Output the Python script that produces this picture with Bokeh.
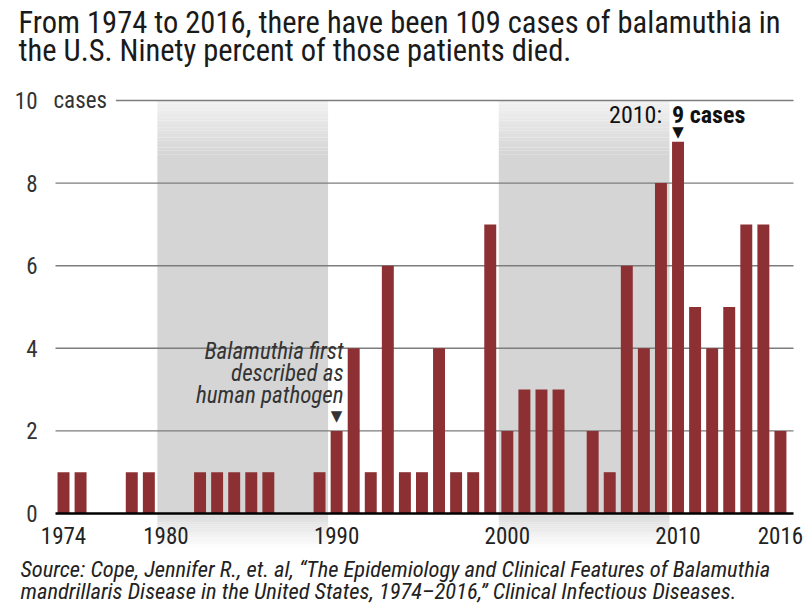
from bokeh.plotting import figure
from bokeh.models import Range1d, Title, FixedTicker
from bokeh.core.properties import value
from bokeh.embed import file_html
from bokeh.resources import INLINE

FONT = "Roboto Condensed, DejaVu Sans Condensed, Lato"

# ---- data ----
years = list(range(1974, 2017))
cases = [1, 1, 0, 0, 1, 1, 0, 0, 1, 1, 1, 1, 1, 0, 0, 1, 2, 4, 1, 6, 1, 1,
         4, 1, 1, 7, 2, 3, 3, 3, 0, 2, 1, 6, 4, 8, 9, 5, 4, 5, 7, 7, 2]
x_tick_years = [1974, 1980, 1990, 2000, 2010, 2016]
y_ticks = [0, 2, 4, 6, 8, 10]
shaded_decades = [1980, 2000]
note_year = 1990
note_text = "Balamuthia first\ndescribed as\nhuman pathogen"
title_text = ("From 1974 to 2016, there have been 109 cases of balamuthia in\n"
              "the U.S. Ninety percent of those patients died.")
source_text = ("Source: Cope, Jennifer R., et. al, \u201cThe Epidemiology and Clinical Features of Balamuthia\n"
               "mandrillaris Disease in the United States, 1974\u20132016,\u201d Clinical Infectious Diseases.")

peak_i = max(range(len(cases)), key=lambda i: cases[i])
peak_year, peak_cases = years[peak_i], cases[peak_i]
note_cases = cases[years.index(note_year)]

BAR = "#8c3034"

# layout (years-per-pixel scale chosen so the frame spans the full width)
PX = 17.07
x0 = years[0] - 63 / PX
x1 = x0 + 810 / PX
axis_x = x0 + 50 / PX          # where the value labels end
grid_left = x0 + 55 / PX
grid_right = x0 + 793 / PX
PY = 41.3
y_top = y_ticks[-1] + 30 / PY
y_bot = -35 / PY

p = figure(width=810, height=612, output_backend="svg", toolbar_location=None,
           x_range=Range1d(x0, x1), y_range=Range1d(y_bot, y_top),
           min_border_left=0, min_border_right=0, min_border_top=70, min_border_bottom=64)
p.outline_line_color = None
p.background_fill_color = "white"
p.border_fill_color = "white"

# ---- decade shading with soft gradient ----
def mix(c1, c2, t):
    return "#%02x%02x%02x" % tuple(int(round(a + (b - a) * t)) for a, b in zip(c1, c2))

light = (242, 242, 242)
mid = (213, 213, 213)
white = (255, 255, 255)
L, R, B, T, C = [], [], [], [], []
n = 16
top_fade = 1.3
for d in shaded_decades:
    l, r = d - 0.5, d + 9.5
    for k in range(n):
        L.append(l); R.append(r)
        T.append(10 - top_fade * k / n); B.append(10 - top_fade * (k + 1) / n)
        C.append(mix(light, mid, (k + 0.5) / n))
    L.append(l); R.append(r); T.append(10 - top_fade); B.append(0); C.append(mix(mid, mid, 0))
    for k in range(n):
        L.append(l); R.append(r)
        T.append(y_bot * k / n); B.append(y_bot * (k + 1) / n)
        C.append(mix((218, 218, 218), white, (k + 0.5) / n))
p.quad(left=L, right=R, bottom=B, top=T, fill_color=C, line_color=None, level="image")

# ---- grid lines ----
p.segment(x0=[grid_left] * (len(y_ticks) - 1), x1=[grid_right] * (len(y_ticks) - 1),
          y0=y_ticks[1:], y1=y_ticks[1:], line_color="#7d7d7d", line_width=1.4,
          level="underlay")

# ---- bars ----
p.vbar(x=years, top=cases, width=0.7, fill_color=BAR, line_color=None)

# baseline
p.segment(x0=[grid_left], x1=[grid_right], y0=[0], y1=[0], line_color="black", line_width=2.5)

# ---- axes ----
p.xgrid.grid_line_color = None
p.ygrid.grid_line_color = None

p.xaxis.fixed_location = 0
p.xaxis.ticker = FixedTicker(ticks=x_tick_years)
p.xaxis.axis_line_color = None
p.xaxis.major_tick_line_color = None
p.xaxis.minor_tick_line_color = None
p.xaxis.major_label_standoff = 7
p.xaxis.major_label_text_font = FONT
p.xaxis.major_label_text_font_size = "23px"
p.xaxis.major_label_text_color = "#222222"

p.yaxis.fixed_location = axis_x
p.yaxis.ticker = FixedTicker(ticks=y_ticks)
p.yaxis.axis_line_color = None
p.yaxis.major_tick_line_color = None
p.yaxis.minor_tick_line_color = None
p.yaxis.major_label_standoff = 7
p.yaxis.major_label_text_font = FONT
p.yaxis.major_label_text_font_size = "23px"
p.yaxis.major_label_text_color = "#333333"

# "cases" unit beside the top tick, masking the grid line
p.text(x=[axis_x], y=[y_ticks[-1]], text=["cases"], text_align="left",
       text_baseline="middle", x_offset=3, text_font=value(FONT), text_font_size="23px",
       text_color="#333333", background_fill_color="white", padding=[0, 9, 0, 0])

# ---- annotations ----
p.text(x=[peak_year], y=[peak_cases], text=[f"{peak_year}:"], text_align="right",
       text_baseline="alphabetic", x_offset=-16, y_offset=-27, text_font=value(FONT),
       text_font_size="24px", text_color="#111111")
p.text(x=[peak_year], y=[peak_cases], text=[f"{peak_cases} cases"], text_align="left",
       text_baseline="alphabetic", x_offset=-6, y_offset=-27, text_font=value(FONT),
       text_font_size="24px", text_font_style="bold", text_color="#111111")
p.text(x=[peak_year], y=[peak_cases], text=["\u25bc"], text_align="center",
       text_baseline="bottom", y_offset=-1, text_font=value("DejaVu Sans"),
       text_font_size="15px", text_color="#111111")

p.text(x=[note_year], y=[note_cases], text=[note_text], text_align="right",
       text_baseline="bottom", x_offset=7, y_offset=-22, text_font=value(FONT),
       text_font_size="23px", text_font_style="italic", text_color="#333333",
       text_line_height=0.82)
p.text(x=[note_year], y=[note_cases], text=["\u25bc"], text_align="center",
       text_baseline="bottom", y_offset=-6, text_font=value("DejaVu Sans"),
       text_font_size="15px", text_color="#333333")

# ---- titles ----
p.add_layout(Title(text=title_text, align="left", offset=18, text_font=FONT,
                   text_font_size="30.5px", text_font_style="normal",
                   text_color="#1a1a1a", text_line_height=0.82, standoff=4), "above")
p.add_layout(Title(text=source_text, align="left", offset=20, text_font=FONT,
                   text_font_size="22.5px", text_font_style="italic",
                   text_color="#222222", text_line_height=0.85, standoff=12), "below")

open("out.html", "w").write(file_html(p, INLINE))
